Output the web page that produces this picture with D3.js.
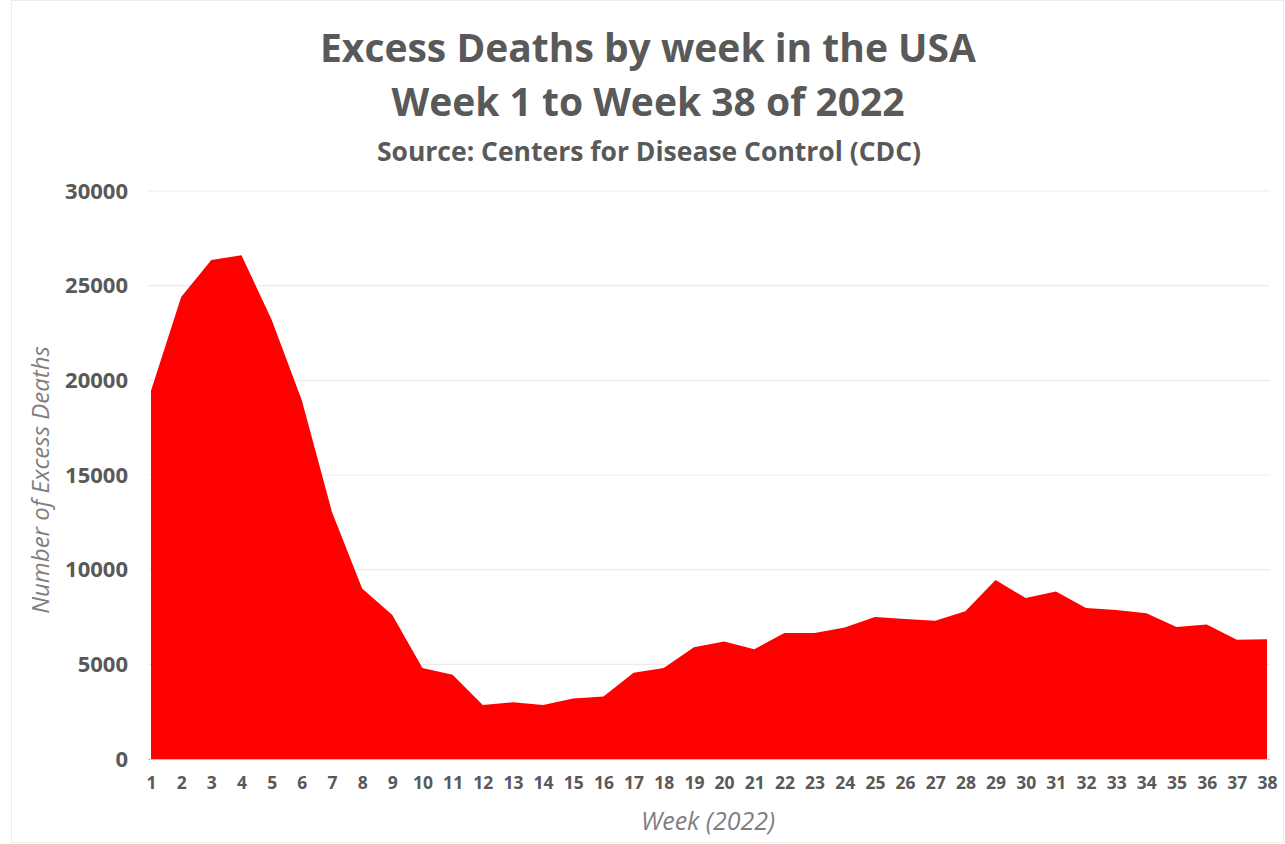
<!DOCTYPE html>
<html><head><meta charset="utf-8">
<script src="https://cdn.jsdelivr.net/npm/d3@7"></script>
<style>body{margin:0;background:#fff;} text{font-family:"Open Sans",sans-serif;}</style>
</head><body>
<svg id="c" width="1285" height="844"></svg>
<script>
const weeks = d3.range(1, 39);
const excessDeaths = [19450, 24400, 26350, 26600, 23200, 18950, 13050, 9000, 7600, 4800,
  4450, 2850, 3000, 2850, 3200, 3300, 4550, 4800, 5900, 6200,
  5800, 6650, 6650, 6950, 7500, 7400, 7300, 7800, 9450, 8500,
  8850, 7970, 7870, 7700, 6970, 7100, 6300, 6330];
const yTicks = [0, 5000, 10000, 15000, 20000, 25000, 30000];
const titleLines = ["Excess Deaths by week in the USA", "Week 1 to Week 38 of 2022"];
const subtitle = "Source: Centers for Disease Control (CDC)";
const xTitle = "Week (2022)";
const yTitle = "Number of Excess Deaths";

const svg = d3.select("#c");
const gray = "#595959";
svg.append("rect").attr("x", 11.5).attr("y", 0.5).attr("width", 1272).attr("height", 842)
  .attr("fill", "#fff").attr("stroke", "#ececec");

const x = d3.scalePoint().domain(weeks).range([151, 1267]);
const y = d3.scaleLinear().domain([0, 30000]).range([759, 191]);

// gridlines
svg.append("g").selectAll("line").data(yTicks).join("line")
  .attr("x1", 148).attr("x2", 1270)
  .attr("y1", d => y(d)).attr("y2", d => y(d))
  .attr("stroke", "#ebebeb").attr("stroke-width", 1.2);

const area = d3.area().x((d, i) => x(weeks[i])).y0(y(0)).y1(d => y(d));
svg.append("path").datum(excessDeaths).attr("d", area).attr("fill", "#ff0000");

// y axis
const ya = svg.append("g").attr("transform", "translate(128,0)")
  .call(d3.axisLeft(y).tickValues(yTicks).tickFormat(d3.format("d")).tickSize(0).tickPadding(0));
ya.select(".domain").remove();
ya.selectAll("text").attr("fill", gray).attr("font-size", 22).attr("font-weight", "bold")
  .attr("font-family", "'Open Sans', sans-serif");

// x axis
const xa = svg.append("g").attr("transform", "translate(0,759)")
  .call(d3.axisBottom(x).tickSize(0).tickPadding(18));
xa.select(".domain").attr("stroke", "#f3b0b0").attr("d", "M148,0.5H1270");
xa.selectAll("text").attr("fill", gray).attr("font-size", 17.5).attr("font-weight", "bold")
  .attr("font-family", "'Open Sans', sans-serif");

// titles
svg.selectAll("text.title").data(titleLines).join("text").attr("class", "title")
  .attr("x", 648).attr("y", (d, i) => 62 + i * 54)
  .attr("text-anchor", "middle").attr("fill", gray)
  .attr("font-size", 39).attr("font-weight", "bold").text(d => d);
svg.append("text").attr("x", 649).attr("y", 161).attr("text-anchor", "middle")
  .attr("fill", gray).attr("font-size", 26.5).attr("font-weight", "bold").text(subtitle);

svg.append("text").attr("x", 708).attr("y", 830).attr("text-anchor", "middle")
  .attr("fill", "#7f7f7f").attr("font-size", 25).attr("font-style", "italic").text(xTitle);
svg.append("text").attr("transform", "translate(49,480) rotate(-90)").attr("text-anchor", "middle")
  .attr("fill", "#7f7f7f").attr("font-size", 24).attr("font-style", "italic").text(yTitle);
</script>
</body></html>
